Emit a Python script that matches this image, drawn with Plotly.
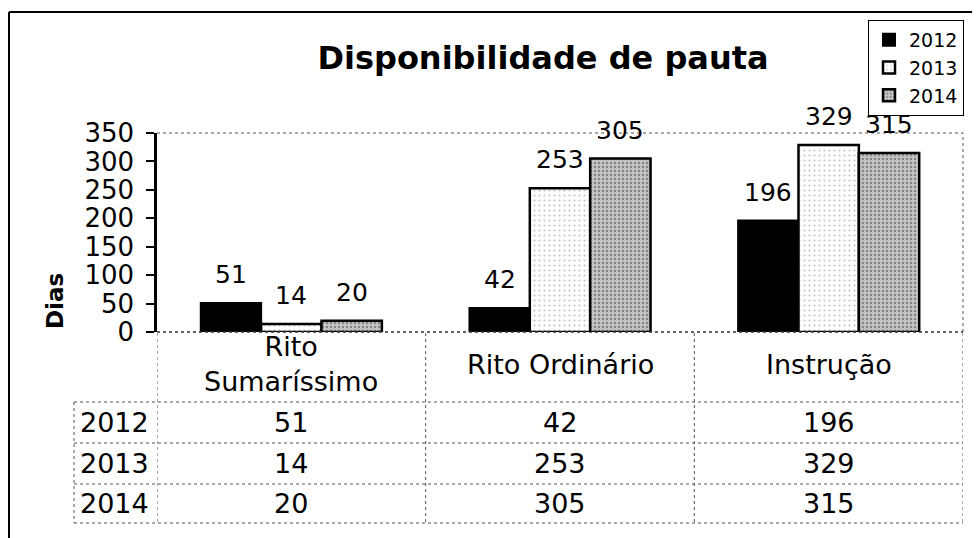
import plotly.graph_objects as go

categories = ["Rito Sumaríssimo", "Rito Ordinário", "Instrução"]
cat_labels = ["Rito<br>Sumaríssimo", "Rito Ordinário", "Instrução"]
years = ["2012", "2013", "2014"]
v2012 = [51, 42, 196]
v2013 = [14, 253, 329]
v2014 = [20, 305, 315]
series = [v2012, v2013, v2014]
yticks = [0, 50, 100, 150, 200, 250, 300, 350]

FONT = "DejaVu Sans, sans-serif"
OFF = 8  # page body margin
W, H = 980 - OFF, 538 - OFF
# plot area in screenshot pixels
SL, SR, ST, SB = 157, 963, 133, 332
L, R, T, B = SL - OFF, SR - OFF, ST - OFF, SB - OFF


def px(xs):
    """screenshot x pixel -> paper x"""
    return (xs - SL) / (SR - SL)


def py(ys):
    """screenshot y pixel -> paper y"""
    return (SB - ys) / (SB - ST)


styles = [
    dict(color="black", line=dict(color="black", width=2)),
    dict(color="white", line=dict(color="black", width=2.5),
         pattern=dict(shape=".", fgcolor="#8a8a8a", bgcolor="white", size=5, solidity=0.15)),
    dict(color="#b5b5b5", line=dict(color="black", width=2.5),
         pattern=dict(shape=".", fgcolor="#444444", bgcolor="#c4c4c4", size=4, solidity=0.3)),
]

fig = go.Figure()
for name, vals, st in zip(years, series, styles):
    fig.add_trace(go.Bar(x=categories, y=vals, name=name, marker=st))

bargap = 0.326
bar_px = (SR - SL) / 3 * (1 - bargap) / 3

annotations = []
# bar value labels
for i, vals in enumerate(series):
    for j, v in enumerate(vals):
        annotations.append(dict(x=categories[j], y=v, xref="x", yref="y",
                                text=str(v), showarrow=False, yanchor="bottom", xanchor="center",
                                xshift=(i - 1) * bar_px, yshift=12,
                                font=dict(size=25, color="black", family=FONT)))
# category labels
for j, lab in enumerate(cat_labels):
    annotations.append(dict(x=categories[j], y=py(364), xref="x", yref="paper",
                            text=lab, showarrow=False, yanchor="middle", xanchor="center",
                            font=dict(size=27, color="black", family=FONT)))
# table rows
row_y = [422.5, 463.5, 503.5]
for r, (name, vals) in enumerate(zip(years, series)):
    annotations.append(dict(x=px(114), y=py(row_y[r]), xref="paper", yref="paper",
                            text=name, showarrow=False, yanchor="middle", xanchor="center",
                            font=dict(size=27, color="black", family=FONT)))
    for j, v in enumerate(vals):
        annotations.append(dict(x=categories[j], y=py(row_y[r]), xref="x", yref="paper",
                                text=str(v), showarrow=False, yanchor="middle", xanchor="center",
                                font=dict(size=27, color="black", family=FONT)))
# y-axis title
annotations.append(dict(x=px(55), y=py(301), xref="paper", yref="paper",
                        text="<b>Dias</b>", showarrow=False, textangle=-90,
                        xanchor="center", yanchor="middle",
                        font=dict(size=23, color="black", family=FONT)))

shapes = []
dot = dict(color="#555", width=1, dash="dot")
# plot area top and right borders
shapes.append(dict(type="line", xref="paper", yref="paper", x0=0, x1=1, y0=1, y1=1, line=dot))
shapes.append(dict(type="line", xref="paper", yref="paper", x0=1, x1=1, y0=0, y1=1, line=dot))
shapes.append(dict(type="line", xref="paper", yref="paper", x0=0, x1=1, y0=0, y1=0,
                   line=dict(color="#333", width=1.5, dash="dot")))
# table horizontal lines
for yl in [402, 443, 484, 523]:
    shapes.append(dict(type="line", xref="paper", yref="paper", x0=px(74), x1=1,
                       y0=py(yl), y1=py(yl), line=dot))
# table vertical lines
for xv in [-0.5, 0.5, 1.5, 2.5]:
    shapes.append(dict(type="line", xref="x", yref="paper", x0=xv, x1=xv,
                       y0=py(333), y1=py(523), line=dot))
shapes.append(dict(type="line", xref="paper", yref="paper", x0=px(74), x1=px(74),
                   y0=py(402), y1=py(523), line=dot))
# outer chart frame
frame = dict(color="black", width=2)
shapes.append(dict(type="line", xref="paper", yref="paper", x0=px(9), x1=px(985),
                   y0=py(12), y1=py(12), line=frame))
shapes.append(dict(type="line", xref="paper", yref="paper", x0=px(9), x1=px(9),
                   y0=py(12), y1=py(545), line=frame))

fig.update_layout(
    width=W, height=H, autosize=False,
    margin=dict(l=L, r=W - R, t=T, b=H - B, pad=0),
    paper_bgcolor="white", plot_bgcolor="white",
    font=dict(family=FONT, color="black"),
    barmode="group", bargap=bargap, bargroupgap=0,
    title=dict(text="<b>Disponibilidade de pauta</b>", xref="container", yref="container",
               x=(543 - OFF) / W, y=1 - (58 - OFF) / H, xanchor="center", yanchor="middle",
               font=dict(size=32, color="black", family=FONT)),
    xaxis=dict(type="category", range=[-0.5, 2.5], showticklabels=False, showline=False,
               ticks="", showgrid=False, zeroline=False, fixedrange=True),
    yaxis=dict(range=[0, 350], tickvals=yticks, ticks="outside", ticklen=8, tickwidth=2,
               tickcolor="black", showline=True, linecolor="black", linewidth=2.5,
               showgrid=False, zeroline=False, ticklabelstandoff=7,
               tickfont=dict(size=26, color="black", family=FONT)),
    legend=dict(x=px(868), y=py(20), xanchor="left", yanchor="top",
                bordercolor="black", borderwidth=1, bgcolor="white",
                font=dict(size=19, color="black", family=FONT),
                itemwidth=30, tracegroupgap=0),
    annotations=annotations,
    shapes=shapes,
    showlegend=True,
)

fig.write_html("out.html")
